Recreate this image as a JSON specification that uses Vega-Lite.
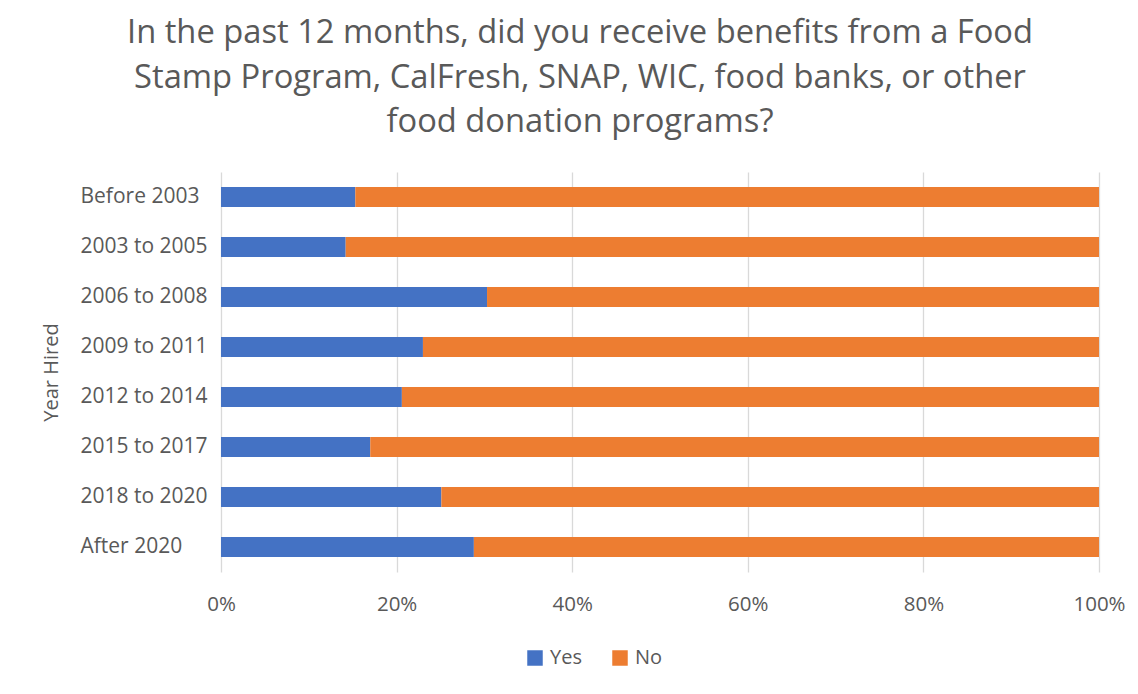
{
  "$schema": "https://vega.github.io/schema/vega-lite/v6.json",
  "autosize": "none",
  "padding": {"left": 221, "top": 172, "right": 39, "bottom": 122},
  "width": 878,
  "height": 400,
  "background": "white",
  "config": {
    "font": "Open Sans",
    "view": {"stroke": null}
  },
  "title": {
    "text": ["In the past 12 months, did you receive benefits from a Food", "Stamp Program, CalFresh, SNAP, WIC, food banks, or other", "food donation programs?"],
    "fontSize": 32.7,
    "fontWeight": "normal",
    "color": "#595959",
    "lineHeight": 44.5,
    "anchor": "middle",
    "frame": "bounds",
    "dx": -3,
    "offset": 33
  },
  "data": {
    "values": [
      {"year": "Before 2003", "answer": "Yes", "value": 15.3},
      {"year": "Before 2003", "answer": "No", "value": 84.7},
      {"year": "2003 to 2005", "answer": "Yes", "value": 14.2},
      {"year": "2003 to 2005", "answer": "No", "value": 85.8},
      {"year": "2006 to 2008", "answer": "Yes", "value": 30.3},
      {"year": "2006 to 2008", "answer": "No", "value": 69.7},
      {"year": "2009 to 2011", "answer": "Yes", "value": 23.0},
      {"year": "2009 to 2011", "answer": "No", "value": 77.0},
      {"year": "2012 to 2014", "answer": "Yes", "value": 20.6},
      {"year": "2012 to 2014", "answer": "No", "value": 79.4},
      {"year": "2015 to 2017", "answer": "Yes", "value": 17.0},
      {"year": "2015 to 2017", "answer": "No", "value": 83.0},
      {"year": "2018 to 2020", "answer": "Yes", "value": 25.1},
      {"year": "2018 to 2020", "answer": "No", "value": 74.9},
      {"year": "After 2020", "answer": "Yes", "value": 28.8},
      {"year": "After 2020", "answer": "No", "value": 71.2}
    ]
  },
  "mark": {"type": "bar"},
  "encoding": {
    "y": {
      "field": "year",
      "type": "nominal",
      "sort": ["Before 2003", "2003 to 2005", "2006 to 2008", "2009 to 2011", "2012 to 2014", "2015 to 2017", "2018 to 2020", "After 2020"],
      "scale": {"paddingInner": 0.6, "paddingOuter": 0.3},
      "axis": {
        "title": "Year Hired",
        "titleFontSize": 20,
        "titleFontWeight": "normal",
        "titleColor": "#595959",
        "titlePadding": 19,
        "labelAlign": "left",
        "labelPadding": 141,
        "labelFontSize": 21,
        "labelColor": "#595959",
        "ticks": false,
        "tickSize": 0,
        "domain": false,
        "grid": false
      }
    },
    "x": {
      "field": "value",
      "type": "quantitative",
      "stack": "normalize",
      "scale": {"domain": [0, 1]},
      "axis": {
        "title": null,
        "format": "%",
        "values": [0, 0.2, 0.4, 0.6, 0.8, 1],
        "labelFontSize": 20.5,
        "labelColor": "#595959",
        "labelPadding": 22,
        "labelFlush": false,
        "ticks": false,
        "domain": false,
        "grid": true,
        "gridColor": "#D9D9D9",
        "gridWidth": 1.3
      }
    },
    "color": {
      "field": "answer",
      "type": "nominal",
      "scale": {"domain": ["Yes", "No"], "range": ["#4472C4", "#ED7D31"]},
      "legend": {
        "title": null,
        "orient": "none",
        "legendX": 304,
        "legendY": 476,
        "direction": "horizontal",
        "symbolType": "square",
        "symbolSize": 240,
        "symbolStrokeWidth": 0,
        "labelFontSize": 20,
        "labelColor": "#595959",
        "labelOffset": 5,
        "columnPadding": 28
      }
    },
    "order": {"field": "answer", "sort": "descending"}
  }
}
